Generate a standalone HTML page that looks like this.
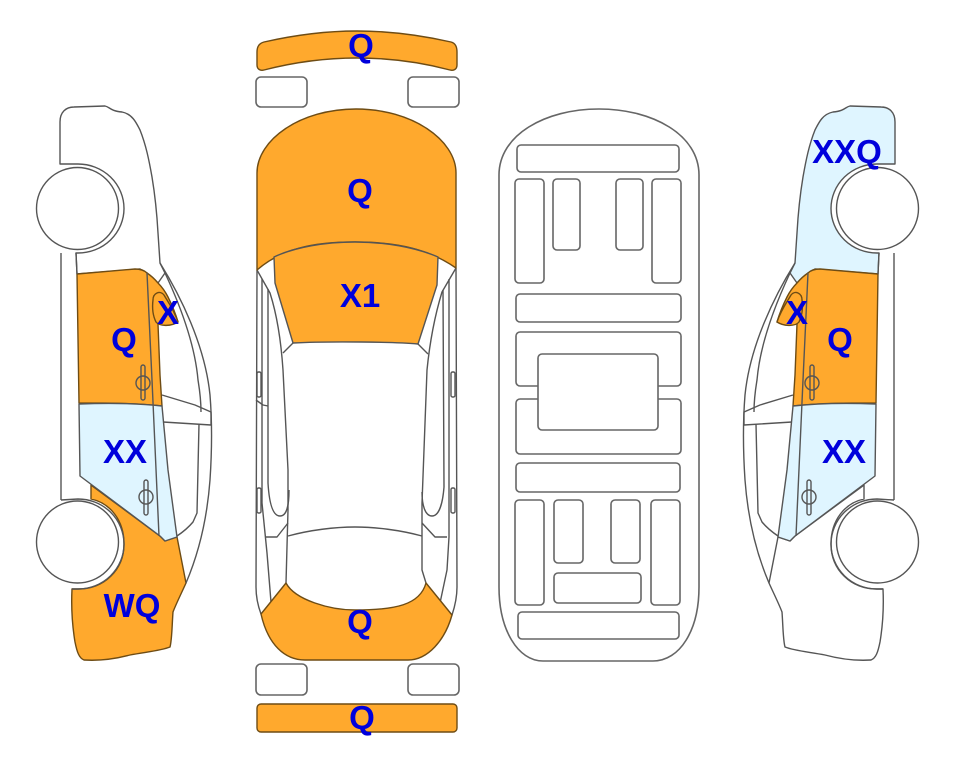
<!DOCTYPE html>
<html><head><meta charset="utf-8"><style>
html,body{margin:0;padding:0;background:#fff}
svg{display:block}
text{font-family:"Liberation Sans",sans-serif;font-weight:bold;font-size:33px;fill:#0000dc;stroke:none;text-anchor:middle}
</style></head><body>
<svg width="963" height="768" viewBox="0 0 963 768" xmlns="http://www.w3.org/2000/svg">
<defs>
<path id="front" d="M60 164 L60 122 C60 112 66 107 74 107 L105 106 C110 107 110 111 122 112 C132 114 136 122 140 130 C146 145 149 160 152 177 C155 195 157 215 158 233 L160 263 L165 273 L158 283 L147 273 L140 269 L77 274 L76 253 L78 253 A46 44.5 0 1 0 78 164 Z"/>
<path id="rear" d="M91 485 L91 499 C110 503 124 520 124 544 C124 570 104 589 78 589 L72 589 C71 610 73 630 75 642 C77 652 79 658 84 660 C100 661 115 659 130 655 C145 652 160 651 170 647 C172 640 172 625 173 612 C176 604 182 592 186 583 L177 537 L165 541 L160 536 Z"/>
<path id="doorF" d="M77 274 L135 269 C141 269 145 271 147 273 C153 277 158 283 158 283 C163 288 166 293 168 297 C172 305 175 312 178 322 L158 324 L160 375 L162 406 C135 403 105 403 79 403 Z"/>
<path id="doorR" d="M79 404 C105 403 135 403 162 406 L168 470 L177 537 L165 541 L160 536 L80 476 Z"/>
<path id="mirror" d="M153 300 C153 293 160 290 164 295 C168 302 174 310 178 322 C172 326 160 327 156 322 C153 316 152 308 153 300Z"/>
<g id="lines" fill="none">
<path d="M61 253 L61 500"/>
<path d="M160 263 C180 295 205 345 210 395 C212 420 212 450 210 480 C207 520 198 555 186 583"/>
<path d="M165 273 C180 305 195 345 198 380 C200 392 201 402 201 412"/>
<path d="M162 395 L195 405 L211 412 L211 425 L163 422"/>
<path d="M199 424 L197 513 L193 522 C188 528 183 532 177 536"/>
<path d="M147 273 L152 380 L159 536"/>
<rect x="141" y="365" width="4" height="35" rx="2"/>
<ellipse cx="143" cy="383" rx="7" ry="7"/>
<rect x="144" y="480" width="4" height="35" rx="2"/>
<ellipse cx="146" cy="497" rx="7" ry="7"/>
<path d="M61 500 L78 499 A46 45 0 0 1 78 589 L72 589"/>
<path d="M76 253 L77 274"/>
</g>
<g id="wheels" fill="#fff">
<circle cx="77.5" cy="208.5" r="41"/>
<circle cx="77.5" cy="542" r="41"/>
</g>
</defs>

<g stroke="#555" stroke-width="1.4" stroke-linejoin="round">
<!-- left car -->
<use href="#front" fill="#fff"/>
<use href="#rear" fill="#FFA92D" stroke="#6e4c14"/>
<use href="#doorF" fill="#FFA92D" stroke="#6e4c14"/>
<use href="#doorR" fill="#DFF5FF"/>
<use href="#mirror" fill="#FFA92D" stroke="#6e4c14"/>
<use href="#lines"/>
<use href="#wheels"/>

<!-- right car -->
<g transform="translate(955,0) scale(-1,1)">
<use href="#front" fill="#DFF5FF"/>
<use href="#rear" fill="#fff"/>
<use href="#doorF" fill="#FFA92D" stroke="#6e4c14"/>
<use href="#doorR" fill="#DFF5FF"/>
<use href="#mirror" fill="#FFA92D" stroke="#6e4c14"/>
<use href="#lines"/>
<use href="#wheels"/>
</g>

<!-- centre car -->
<path fill="#FFA92D" stroke="#6e4c14" d="M257 52 C257 46 260 43 264 42 C295 35 325 31 357 31 C390 31 420 35 451 42 C455 43 457 46 457 52 L457 65 C457 69 454 71 450 70 C420 62 390 58 357 58 C325 58 295 62 264 70 C260 71 257 69 257 65 Z"/>
<rect x="256" y="77" width="51" height="30" rx="5" fill="#fff" stroke="#666" stroke-width="1.6"/>
<rect x="408" y="77" width="51" height="30" rx="5" fill="#fff" stroke="#666" stroke-width="1.6"/>

<g fill="none">
<path d="M257 270 L256 587 C256 598 258 606 261 614"/>
<path d="M456 268 L457 587 C457 598 455 606 452 615"/>
<path d="M257 270 L270 293 C277 315 281 340 283 370 L288 470 L288 510 L286 583"/>
<path d="M456 268 L442 292 C435 315 430 340 427 370 L422 503 L422 570 L426 583"/>
<path d="M262 279 L262 503 L267 553 L271 602"/>
<path d="M449 279 L449 537 L447 570 L440 603"/>
<path d="M268 289 L268 483 C269 500 272 516 280 516 C287 516 289 505 289 490"/>
<path d="M443 290 L444 487 C443 500 440 516 432 516 C425 516 422 505 422 492"/>
<path d="M283 353 L293 343 M418 344 L428 354"/>
<path d="M256 400 L263 405 L268 406"/>
<path d="M266 537 L277 537 L288 523 M422 523 L435 537 L447 537"/>
<path d="M288 536 C310 530 335 527 355 527 C375 527 400 530 422 536"/>
<rect x="257" y="372" width="4" height="25" rx="1.5"/>
<rect x="257" y="488" width="4" height="25" rx="1.5"/>
<rect x="451" y="372" width="4" height="25" rx="1.5"/>
<rect x="451" y="488" width="4" height="25" rx="1.5"/>
</g>

<path fill="#FFA92D" stroke="#6e4c14" d="M257 270 L257 173 C257 140 300 109 356 109 C412 109 456 140 456 173 L456 268 C430 250 400 242 355 242 C310 242 280 250 257 270 Z"/>
<path fill="#FFA92D" stroke="#555" d="M274 257 C295 247 325 242 355 242 C385 242 415 247 438 257 L437 285 L418 344 C395 342 330 341 293 343 L275 283 Z"/>
<path fill="#FFA92D" stroke="#6e4c14" d="M261 614 L286 583 C295 600 330 610 355 610 C395 610 420 605 426 583 L452 615 C445 640 428 660 408 660 L305 660 C285 660 268 645 261 614 Z"/>

<rect x="256" y="664" width="51" height="31" rx="5" fill="#fff" stroke="#666" stroke-width="1.6"/>
<rect x="408" y="664" width="51" height="31" rx="5" fill="#fff" stroke="#666" stroke-width="1.6"/>
<rect x="257" y="704" width="200" height="28" rx="4" fill="#FFA92D" stroke="#6e4c14"/>

<!-- underside -->
<g fill="#fff" stroke="#666" stroke-width="1.6">
<path d="M499 175 C499 135 545 109 599 109 C653 109 699 135 699 175 L699 587 C699 630 680 661 653 661 L543 661 C518 661 499 630 499 587 Z"/>
<rect x="517" y="145" width="162" height="27" rx="4"/>
<rect x="515" y="179" width="29" height="104" rx="4"/>
<rect x="553" y="179" width="27" height="71" rx="4"/>
<rect x="616" y="179" width="27" height="71" rx="4"/>
<rect x="652" y="179" width="29" height="104" rx="4"/>
<rect x="516" y="294" width="165" height="28" rx="4"/>
<rect x="516" y="332" width="165" height="54" rx="4"/>
<rect x="516" y="399" width="165" height="55" rx="4"/>
<rect x="538" y="354" width="120" height="76" rx="4"/>
<rect x="516" y="463" width="164" height="29" rx="4"/>
<rect x="515" y="500" width="29" height="105" rx="4"/>
<rect x="554" y="500" width="29" height="63" rx="4"/>
<rect x="611" y="500" width="29" height="63" rx="4"/>
<rect x="651" y="500" width="29" height="105" rx="4"/>
<rect x="554" y="573" width="87" height="30" rx="4"/>
<rect x="518" y="612" width="161" height="27" rx="4"/>
</g>
</g>

<text x="361" y="57">Q</text>
<text x="360" y="202">Q</text>
<text x="360" y="307">X1</text>
<text x="360" y="633">Q</text>
<text x="362" y="729">Q</text>
<text x="124" y="351">Q</text>
<text x="168" y="324">X</text>
<text x="125" y="463">XX</text>
<text x="132" y="617">WQ</text>
<text x="847" y="163">XXQ</text>
<text x="797" y="324">X</text>
<text x="840" y="351">Q</text>
<text x="844" y="463">XX</text>
</svg>
</body></html>
